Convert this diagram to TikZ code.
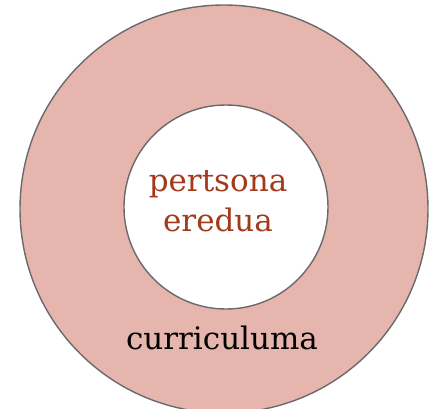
\documentclass[tikz,border=0pt]{standalone}
\usepackage{fontspec}
\setmainfont{DejaVu Serif}
\usetikzlibrary{positioning}
\definecolor{ringfill}{HTML}{E6B6AE}
\definecolor{ringline}{HTML}{6A6A6A}
\definecolor{coretext}{HTML}{A33A1B}

\begin{document}
\begin{tikzpicture}[x=1pt,y=-1pt,line width=1.4pt,
 font=\fontsize{31}{39}\selectfont]
 \tikzstyle{ring}=[circle,draw=ringline,inner sep=0pt]
 \tikzstyle{word}=[anchor=base,inner sep=0pt]

 \useasboundingbox (0,0) rectangle (429,408);

 \node[ring,fill=ringfill,minimum size=408pt] (outer) at (224,209) {};
 \node[ring,fill=white,minimum size=204pt] (inner) at (226,207) {};

 \node[word,text=coretext] (pertsona) at (218,191) {pertsona};
 \node[word,text=coretext] (eredua) at (218,231) {eredua};
 \node[word] (curriculuma) at (222,349) {curriculuma};
\end{tikzpicture}
\end{document}
